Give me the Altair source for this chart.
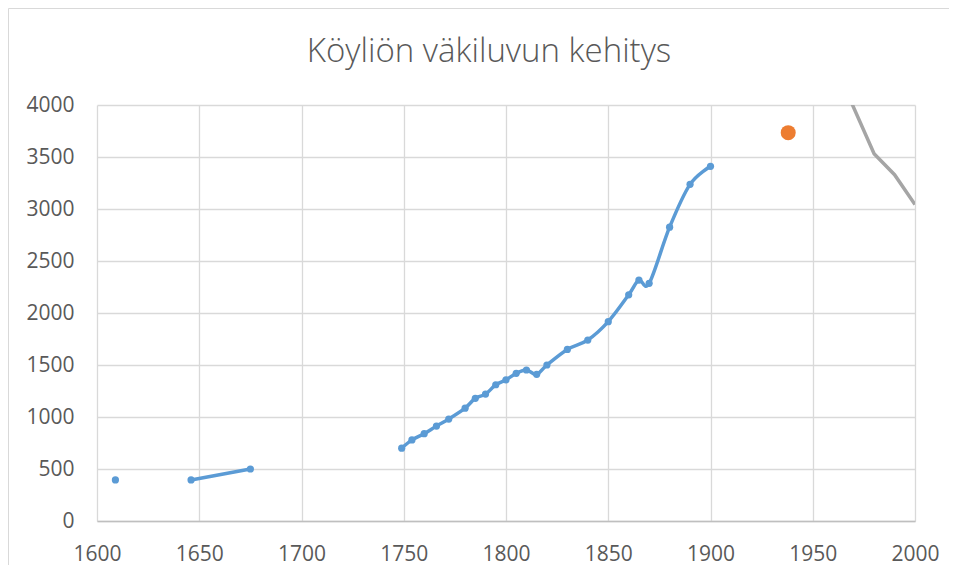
import altair as alt
import pandas as pd

title_text = "Köyliön väkiluvun kehitys"

blue_years = [1609, 1646, 1675, 1749, 1754, 1760, 1766, 1772, 1780, 1785, 1790, 1795,
              1800, 1805, 1810, 1815, 1820, 1830, 1840, 1850, 1860, 1865, 1870, 1880,
              1890, 1900]
blue_values = [395, 395, 500, 700, 780, 840, 913, 980, 1085, 1180, 1220, 1310,
               1357, 1420, 1452, 1410, 1500, 1650, 1740, 1917, 2175, 2317, 2285, 2825,
               3237, 3410]
blue_segments = [0, 1, 1, 2, 2, 2, 2, 2, 2, 2, 2, 2,
                 2, 2, 2, 2, 2, 2, 2, 2, 2, 2, 2, 2,
                 2, 2]

orange_years = [1938]
orange_values = [3734]

grey_years = [1960, 1980, 1990, 2000]
grey_values = [4420, 3531, 3330, 3043]

x_ticks = [1600, 1650, 1700, 1750, 1800, 1850, 1900, 1950, 2000]
y_ticks = [0, 500, 1000, 1500, 2000, 2500, 3000, 3500, 4000]

W, H = 818, 416
PAD = {"left": 89, "top": 97, "right": 34, "bottom": 44}

blue_df = pd.DataFrame({"year": blue_years, "value": blue_values, "seg": blue_segments})
orange_df = pd.DataFrame({"year": orange_years, "value": orange_values})
grey_df = pd.DataFrame({"year": grey_years, "value": grey_values})
title_df = pd.DataFrame({"t": [title_text]})

xs = alt.Scale(domain=[1600, 2000], nice=False, zero=False)
ys = alt.Scale(domain=[0, 4000], nice=False)

x_axis = alt.Axis(values=x_ticks, format="d", title=None, labelPadding=22,
                  domain=True, domainColor="#bfbfbf", domainWidth=1.3)
y_axis = alt.Axis(values=y_ticks, format="d", title=None, labelPadding=23,
                  domain=False)

X = alt.X("year:Q", scale=xs, axis=x_axis)
Y = alt.Y("value:Q", scale=ys, axis=y_axis)

blue_line = alt.Chart(blue_df).mark_line(
    color="#5b9bd5", strokeWidth=3.5, interpolate="cardinal"
).encode(x=X, y=Y, detail="seg:N")

blue_pts = alt.Chart(blue_df).mark_point(
    filled=True, color="#5b9bd5", size=52, opacity=1, shape="circle"
).encode(x=X, y=Y)

orange_pt = alt.Chart(orange_df).mark_point(
    filled=True, color="#ed7d31", size=225, opacity=1, shape="circle"
).encode(x=X, y=Y)

grey_line = alt.Chart(grey_df).mark_line(
    color="#a5a5a5", strokeWidth=3.5, clip=True
).encode(x=X, y=Y)

title_mark = alt.Chart(title_df).mark_text(
    font="Open Sans", fontSize=33, fontWeight=300, color="#595959",
    align="center", baseline="alphabetic"
).encode(x=alt.value(392), y=alt.value(-43.5), text="t:N")

frame_df = pd.DataFrame({"k": [0]})
border_left = alt.Chart(frame_df).mark_rule(color="#d9d9d9", strokeWidth=1).encode(
    x=alt.value(-88.5), y=alt.value(-96.5), y2=alt.value(H + PAD["bottom"]))
border_top = alt.Chart(frame_df).mark_rule(color="#d9d9d9", strokeWidth=1).encode(
    y=alt.value(-96.5), x=alt.value(-88.5), x2=alt.value(W + PAD["right"]))

chart = alt.layer(
    border_left, border_top, title_mark, grey_line, blue_line, blue_pts, orange_pt
).properties(
    width=W, height=H,
    padding=PAD,
    autosize=alt.AutoSizeParams(type="none"),
).configure_view(
    strokeWidth=0
).configure_axis(
    labelFont="Open Sans", labelFontSize=21, labelColor="#595959",
    gridColor="#d9d9d9", gridWidth=1.3, ticks=False, tickSize=0,
    labelFlush=False, labelOverlap=False
)

chart.save("out.html", embed_options={"renderer": "svg", "actions": False})
